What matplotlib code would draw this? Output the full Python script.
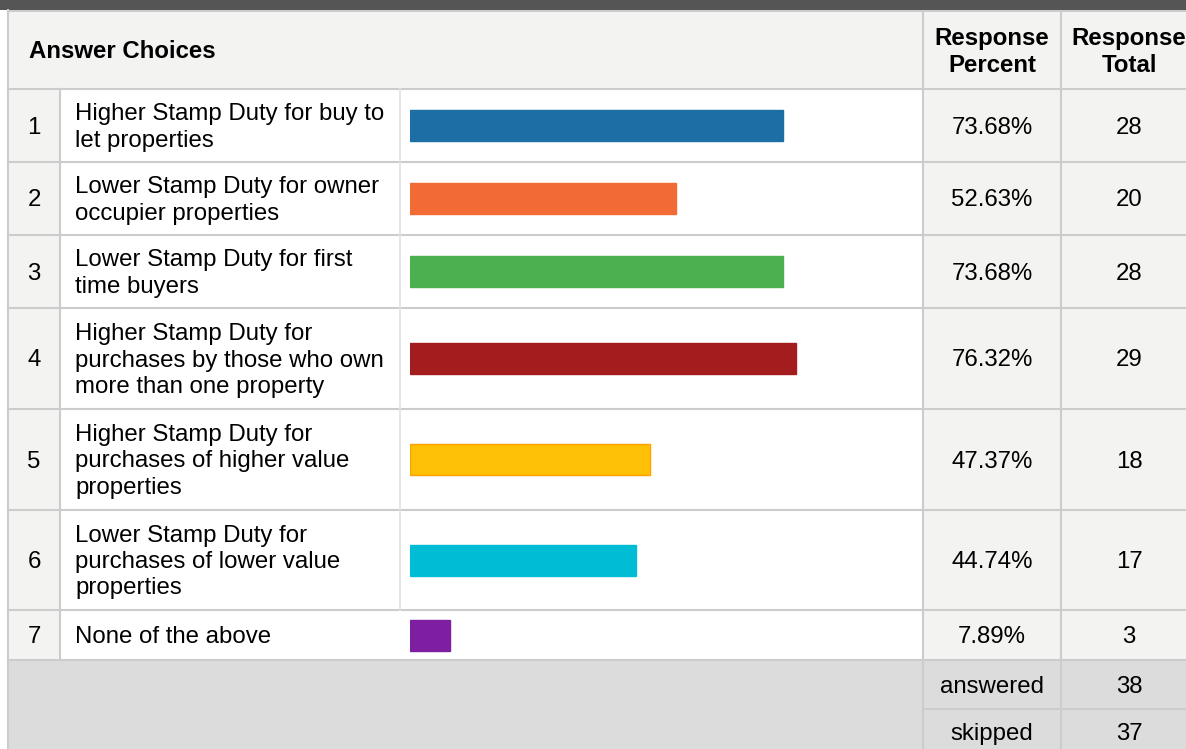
import matplotlib.pyplot as plt
from matplotlib.patches import Rectangle

plt.rcParams['font.family'] = ['Liberation Sans', 'DejaVu Sans']

numbers = ['1', '2', '3', '4', '5', '6', '7']
choices = [
    'Higher Stamp Duty for buy to\nlet properties',
    'Lower Stamp Duty for owner\noccupier properties',
    'Lower Stamp Duty for first\ntime buyers',
    'Higher Stamp Duty for\npurchases by those who own\nmore than one property',
    'Higher Stamp Duty for\npurchases of higher value\nproperties',
    'Lower Stamp Duty for\npurchases of lower value\nproperties',
    'None of the above',
]
percents = [73.68, 52.63, 73.68, 76.32, 47.37, 44.74, 7.89]
totals = [28, 20, 28, 29, 18, 17, 3]
bar_colors = ['#1c6ea4', '#f26b35', '#4caf50', '#a31d1f', '#ffc107', '#00bcd4', '#7e1fa1']
bar_edges = ['#1c6ea4', '#f26b35', '#4caf50', '#a31d1f', '#ffa000', '#00bcd4', '#7e1fa1']
summary_labels = ['answered', 'skipped']
summary_values = [38, 37]

W, H = 1186, 749
# row edges in pixels (layout)
row_edges = [89, 162, 235, 308, 409, 510, 610, 660]
row_mid = [(a + b) / 2 for a, b in zip(row_edges[:-1], row_edges[1:])]
line_c = '#cccccc'
light = '#f3f3f2'
dark_sum = '#dcdcdc'
fs = 17.3
lw = 1.5
dy = 2  # small downward nudge for text

fig = plt.figure(figsize=(W / 100, H / 100), dpi=100)
ax = fig.add_axes([0, 0, 1, 1])
ax.set_xlim(0, W)
ax.set_ylim(H, 0)
ax.axis('off')

def box(x0, y0, x1, y1, fc):
    ax.add_patch(Rectangle((x0, y0), x1 - x0, y1 - y0, facecolor=fc, edgecolor='none'))

# top band
box(0, 0, W, 10, '#555555')
box(8, 10, W, 12, line_c)
# header
box(8, 12, W, 89, light)
# body cells
for y0, y1 in zip(row_edges[:-1], row_edges[1:]):
    box(8, y0, 60, y1, light)
    box(60, y0, 923, y1, 'white')
    box(923, y0, W, y1, light)
# summary
box(8, 660, W, H, dark_sum)

# lines
ax.plot([8, 8], [10, H], color=line_c, lw=lw)
for y in row_edges:
    ax.plot([8, W], [y, y], color=line_c, lw=lw)
ax.plot([923, W], [709, 709], color=line_c, lw=lw)
ax.plot([923, 923], [12, H], color=line_c, lw=lw)
ax.plot([1061, 1061], [12, H], color=line_c, lw=lw)
ax.plot([60, 60], [89, 660], color=line_c, lw=lw)
ax.plot([400, 400], [89, 610], color='#e2e2e2', lw=1.2)

# header text
ax.text(29, 50 + dy, 'Answer Choices', fontsize=fs, fontweight='bold', ha='left', va='center')
ax.text(992, 50 + dy, 'Response\nPercent', fontsize=fs, fontweight='bold', ha='center', va='center', linespacing=1.25)
ax.text(1129, 50 + dy, 'Response\nTotal', fontsize=fs, fontweight='bold', ha='center', va='center', linespacing=1.25)

for i in range(len(numbers)):
    y = row_mid[i] + dy
    ax.text(34, y, numbers[i], fontsize=fs, ha='center', va='center')
    ax.text(75, y, choices[i], fontsize=fs, ha='left', va='center', linespacing=1.25)
    ax.text(992, y, f'{percents[i]:.2f}%', fontsize=fs, ha='center', va='center')
    ax.text(1129, y, str(totals[i]), fontsize=fs, ha='center', va='center')

for lab, val, y in zip(summary_labels, summary_values, [685, 732]):
    ax.text(992, y + dy, lab, fontsize=fs, ha='center', va='center')
    ax.text(1129, y + dy, str(val), fontsize=fs, ha='center', va='center')

# bars on their own percent scale
bx = fig.add_axes([410 / W, 0, 506 / W, 1])
bx.set_xlim(0, 100)
bx.set_ylim(H, 0)
bx.axis('off')
bx.patch.set_alpha(0)
bx.barh(row_mid, percents, height=31, color=bar_colors, edgecolor=bar_edges, linewidth=1)

fig.savefig('out.png', dpi=100)
